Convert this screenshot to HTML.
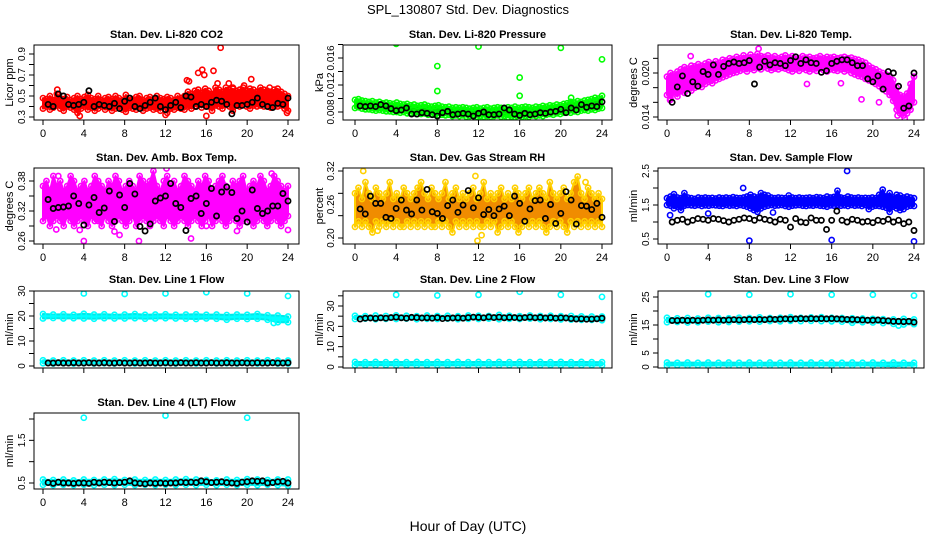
<!DOCTYPE html>
<html><head><meta charset="utf-8"><style>
html,body{margin:0;padding:0;background:#fff;}
svg{display:block;font-family:"Liberation Sans",sans-serif;}
</style></head><body>
<svg id="chart" width="936" height="540" viewBox="0 0 936 540" xmlns="http://www.w3.org/2000/svg">
<rect width="936" height="540" fill="#fff"/>
<text x="468" y="14" text-anchor="middle" font-size="13">SPL_130807  Std. Dev. Diagnostics</text>
<text x="468" y="531" text-anchor="middle" font-size="14">Hour of Day (UTC)</text>
</svg>
<script>
// ---------- data ----------
const xTicks = [0,4,8,12,16,20,24];

const co2Hi = [0.48,0.47,0.50,0.46,0.52,0.48,0.47,0.49,0.46,0.48,0.50,0.47,0.49,0.51,0.48,0.47,0.50,0.46,0.48,0.49,0.47,0.50,0.48,0.46,0.51,0.48,0.47,0.49,0.50,0.46,0.48,0.49,0.47,0.50,0.48,0.47,0.49,0.48,0.46,0.50,0.48,0.50,0.54,0.52,0.55,0.56,0.53,0.57,0.55,0.52,0.58,0.56,0.54,0.58,0.56,0.57,0.55,0.56,0.58,0.55,0.57,0.56,0.54,0.58,0.56,0.55,0.54,0.56,0.57,0.54,0.52,0.50];
const co2Lo = [0.38,0.40,0.37,0.39,0.41,0.38,0.36,0.40,0.39,0.37,0.34,0.38,0.40,0.37,0.39,0.36,0.38,0.40,0.37,0.39,0.36,0.38,0.40,0.37,0.35,0.39,0.38,0.37,0.40,0.36,0.38,0.39,0.37,0.38,0.36,0.40,0.34,0.38,0.37,0.39,0.38,0.37,0.40,0.38,0.40,0.42,0.39,0.41,0.40,0.36,0.41,0.40,0.38,0.42,0.40,0.36,0.41,0.40,0.42,0.40,0.38,0.41,0.40,0.41,0.40,0.42,0.39,0.40,0.40,0.41,0.38,0.36];
const co2Black = [0.42,0.40,0.52,0.50,0.42,0.41,0.42,0.44,0.55,0.40,0.42,0.41,0.40,0.43,0.38,0.45,0.48,0.40,0.38,0.41,0.44,0.48,0.40,0.37,0.41,0.44,0.39,0.50,0.49,0.40,0.42,0.40,0.44,0.46,0.45,0.42,0.33,0.41,0.41,0.42,0.44,0.48,0.42,0.40,0.39,0.43,0.42,0.48];
const co2OutX = [1.4,3.6,14.1,14.3,15.2,15.6,15.8,16.7,17.4,17.1,18.2,18.6,20.4,19.7,12.0,16.0,22.2,23.9];
const co2OutY = [0.56,0.31,0.65,0.64,0.72,0.75,0.70,0.74,0.96,0.62,0.62,0.58,0.66,0.60,0.32,0.31,0.58,0.34];

const presHi = [0.0098,0.0099,0.0097,0.0096,0.0095,0.0096,0.0094,0.0095,0.0093,0.0094,0.0093,0.0092,0.0094,0.0092,0.0091,0.0092,0.0090,0.0091,0.0089,0.0090,0.0091,0.0089,0.0088,0.0089,0.0090,0.0088,0.0087,0.0088,0.0086,0.0087,0.0086,0.0087,0.0086,0.0085,0.0086,0.0087,0.0085,0.0086,0.0087,0.0085,0.0086,0.0087,0.0086,0.0085,0.0087,0.0086,0.0088,0.0086,0.0087,0.0088,0.0087,0.0086,0.0088,0.0087,0.0089,0.0088,0.0090,0.0089,0.0091,0.0090,0.0092,0.0093,0.0095,0.0094,0.0096,0.0095,0.0097,0.0098,0.0099,0.0101,0.0100,0.0104];
const presLo = [0.0086,0.0087,0.0085,0.0084,0.0084,0.0083,0.0082,0.0083,0.0082,0.0081,0.0081,0.0080,0.0080,0.0079,0.0080,0.0078,0.0078,0.0079,0.0077,0.0077,0.0078,0.0076,0.0077,0.0076,0.0075,0.0076,0.0075,0.0076,0.0074,0.0075,0.0074,0.0075,0.0073,0.0074,0.0075,0.0073,0.0074,0.0073,0.0074,0.0073,0.0074,0.0075,0.0073,0.0074,0.0072,0.0073,0.0072,0.0071,0.0073,0.0074,0.0073,0.0075,0.0074,0.0075,0.0074,0.0076,0.0077,0.0076,0.0078,0.0077,0.0079,0.0080,0.0079,0.0081,0.0080,0.0082,0.0083,0.0082,0.0084,0.0083,0.0085,0.0086];
const presBlack = [0.0089,0.0088,0.0089,0.0088,0.0091,0.0089,0.0085,0.0082,0.0083,0.0086,0.0077,0.0077,0.0079,0.0078,0.0076,0.0074,0.0079,0.0081,0.0076,0.0077,0.0078,0.0077,0.0074,0.0078,0.0080,0.0076,0.0076,0.0077,0.0086,0.0083,0.0077,0.0075,0.0078,0.0076,0.0077,0.0079,0.0078,0.0080,0.0081,0.0084,0.0079,0.0086,0.0083,0.0091,0.0087,0.0089,0.0088,0.0095];
const presOutX = [4,8,8,12,16,16,20,24,21];
const presOutY = [0.0181,0.0148,0.0111,0.0177,0.0131,0.0104,0.0175,0.0158,0.0101];

const tempHi = [0.0195,0.0200,0.0198,0.0202,0.0205,0.0208,0.0206,0.0210,0.0209,0.0212,0.0210,0.0213,0.0215,0.0212,0.0216,0.0214,0.0218,0.0217,0.0220,0.0219,0.0222,0.0220,0.0224,0.0221,0.0225,0.0222,0.0226,0.0223,0.0222,0.0224,0.0221,0.0223,0.0220,0.0222,0.0224,0.0221,0.0223,0.0222,0.0220,0.0223,0.0221,0.0222,0.0220,0.0221,0.0223,0.0220,0.0222,0.0221,0.0222,0.0220,0.0221,0.0222,0.0220,0.0221,0.0219,0.0218,0.0216,0.0214,0.0210,0.0207,0.0205,0.0202,0.0200,0.0198,0.0196,0.0190,0.0180,0.0170,0.0168,0.0172,0.0185,0.0195];
const tempLo = [0.0170,0.0165,0.0172,0.0168,0.0175,0.0173,0.0178,0.0176,0.0180,0.0182,0.0181,0.0185,0.0188,0.0186,0.0190,0.0192,0.0194,0.0196,0.0198,0.0200,0.0201,0.0203,0.0205,0.0202,0.0206,0.0204,0.0207,0.0205,0.0208,0.0206,0.0204,0.0206,0.0205,0.0207,0.0206,0.0204,0.0202,0.0205,0.0203,0.0206,0.0204,0.0202,0.0205,0.0203,0.0206,0.0204,0.0202,0.0205,0.0204,0.0203,0.0205,0.0202,0.0204,0.0200,0.0198,0.0196,0.0195,0.0192,0.0190,0.0188,0.0185,0.0182,0.0178,0.0175,0.0170,0.0162,0.0150,0.0145,0.0142,0.0145,0.0150,0.0160];
const tempBlack = [0.0160,0.0181,0.0196,0.0172,0.0188,0.0182,0.0202,0.0198,0.0211,0.0198,0.0209,0.0213,0.0215,0.0213,0.0214,0.0217,0.0185,0.0208,0.0216,0.0211,0.0214,0.0213,0.0210,0.0217,0.0222,0.0213,0.0218,0.0214,0.0213,0.0201,0.0203,0.0213,0.0216,0.0218,0.0218,0.0214,0.0210,0.0210,0.0192,0.0188,0.0196,0.0178,0.0202,0.0200,0.0182,0.0152,0.0155,0.0200];
const tempOutX = [0.3,2.3,8.9,13.6,16.9,18.9,20.6,22.4,23.1];
const tempOutY = [0.0163,0.0223,0.0233,0.0185,0.0186,0.0164,0.0160,0.0142,0.0138];

const ambHi = [0.37,0.38,0.36,0.39,0.37,0.38,0.36,0.37,0.39,0.38,0.36,0.37,0.38,0.36,0.37,0.39,0.38,0.37,0.36,0.38,0.37,0.39,0.38,0.36,0.37,0.38,0.37,0.36,0.39,0.38,0.37,0.38,0.40,0.37,0.36,0.38,0.39,0.37,0.38,0.36,0.37,0.39,0.38,0.37,0.36,0.38,0.37,0.39,0.38,0.36,0.37,0.38,0.39,0.37,0.36,0.38,0.37,0.38,0.39,0.36,0.37,0.38,0.37,0.39,0.38,0.36,0.37,0.39,0.38,0.37,0.36,0.37];
const ambLo = [0.30,0.31,0.29,0.30,0.31,0.30,0.29,0.31,0.30,0.29,0.30,0.31,0.30,0.29,0.31,0.30,0.30,0.29,0.31,0.30,0.29,0.30,0.31,0.30,0.29,0.30,0.31,0.29,0.30,0.31,0.30,0.29,0.30,0.31,0.30,0.29,0.31,0.30,0.29,0.30,0.31,0.30,0.29,0.30,0.31,0.30,0.29,0.30,0.31,0.29,0.30,0.31,0.30,0.29,0.30,0.31,0.30,0.29,0.30,0.31,0.30,0.29,0.30,0.31,0.30,0.29,0.30,0.31,0.30,0.29,0.30,0.31];
const ambBlack = [0.343,0.325,0.327,0.328,0.330,0.350,0.335,0.292,0.332,0.347,0.317,0.326,0.360,0.299,0.352,0.327,0.375,0.354,0.289,0.280,0.294,0.340,0.346,0.350,0.375,0.335,0.327,0.281,0.345,0.350,0.315,0.335,0.365,0.310,0.358,0.368,0.357,0.305,0.320,0.298,0.362,0.325,0.315,0.320,0.330,0.330,0.355,0.340];
const ambOutX = [1.3,3.6,4,7,7.5,9.4,12.1,14.5,16,19,22.4,24,1.5];
const ambOutY = [0.283,0.282,0.26,0.279,0.272,0.26,0.405,0.265,0.29,0.28,0.395,0.282,0.39];

const rhHi = [0.28,0.29,0.27,0.30,0.28,0.27,0.29,0.28,0.27,0.28,0.30,0.27,0.28,0.27,0.29,0.28,0.27,0.28,0.29,0.30,0.28,0.27,0.29,0.28,0.27,0.28,0.30,0.27,0.28,0.29,0.27,0.28,0.27,0.28,0.29,0.27,0.28,0.30,0.27,0.28,0.27,0.28,0.29,0.27,0.28,0.27,0.29,0.28,0.27,0.28,0.29,0.27,0.28,0.29,0.28,0.27,0.30,0.28,0.27,0.28,0.29,0.27,0.28,0.30,0.31,0.28,0.27,0.29,0.28,0.27,0.28,0.27];
const rhLo = [0.22,0.23,0.22,0.23,0.22,0.21,0.23,0.22,0.23,0.22,0.23,0.22,0.23,0.22,0.22,0.23,0.22,0.23,0.22,0.23,0.22,0.23,0.22,0.22,0.23,0.22,0.23,0.22,0.21,0.23,0.22,0.23,0.22,0.23,0.22,0.23,0.22,0.22,0.23,0.22,0.23,0.21,0.22,0.23,0.22,0.23,0.22,0.21,0.22,0.23,0.22,0.23,0.22,0.23,0.22,0.21,0.22,0.23,0.22,0.23,0.22,0.21,0.23,0.22,0.23,0.22,0.23,0.22,0.23,0.22,0.23,0.22];
const rhBlack = [0.252,0.243,0.275,0.262,0.262,0.237,0.235,0.253,0.268,0.250,0.243,0.268,0.250,0.287,0.247,0.244,0.235,0.258,0.268,0.246,0.259,0.285,0.254,0.272,0.242,0.251,0.240,0.252,0.257,0.240,0.275,0.262,0.230,0.252,0.267,0.268,0.235,0.260,0.226,0.244,0.283,0.268,0.225,0.258,0.257,0.251,0.262,0.237];
const rhOutX = [0.8,11.7,11.9,12.3,2.2,22.4];
const rhOutY = [0.32,0.311,0.195,0.205,0.213,0.30];

const sfHi = [1.70,1.75,1.82,1.72,1.70,1.85,1.72,1.70,1.68,1.72,1.70,1.72,1.70,1.71,1.69,1.72,1.70,1.72,1.70,1.73,1.71,1.70,1.72,1.75,1.80,1.75,1.72,1.85,1.80,1.78,1.72,1.70,1.72,1.71,1.70,1.78,1.72,1.70,1.72,1.70,1.71,1.72,1.70,1.73,1.72,1.70,1.75,1.72,1.74,1.92,1.72,1.70,1.75,1.72,1.70,1.72,1.70,1.71,1.70,1.72,1.70,1.80,1.95,1.75,1.85,1.72,1.80,1.78,1.72,1.75,1.72,1.70];
const sfLo = [1.50,1.48,1.40,1.45,1.35,1.48,1.50,1.49,1.48,1.50,1.47,1.49,1.48,1.50,1.49,1.48,1.47,1.50,1.48,1.49,1.47,1.50,1.48,1.45,1.40,1.35,1.30,1.40,1.45,1.48,1.50,1.48,1.49,1.50,1.47,1.45,1.48,1.49,1.50,1.48,1.47,1.49,1.48,1.50,1.48,1.47,1.45,1.49,1.48,1.50,1.48,1.49,1.47,1.50,1.48,1.49,1.47,1.50,1.38,1.45,1.48,1.47,1.45,1.42,1.30,1.45,1.40,1.35,1.38,1.45,1.48,1.47];
const sfBlack = [1.0,1.05,1.08,1.0,1.05,1.1,1.08,1.05,1.1,1.08,1.04,1.0,1.05,1.08,1.12,1.1,1.05,1.12,1.08,1.05,1.0,1.08,1.05,0.85,1.1,1.0,0.98,1.12,1.05,1.05,0.78,1.05,1.32,1.05,1.0,1.08,1.05,1.0,1.02,0.98,1.05,1.02,1.08,1.0,1.05,0.95,1.0,0.75];
const sfOutX = [0.3,4,8,10.3,16,17.5,24,7.4];
const sfOutY = [1.2,1.25,0.45,1.28,0.47,2.5,0.43,2.0];

const l1UpHi = [20.8,20.6,20.7,20.5,20.9,20.6,20.7,20.5,20.6,20.8,20.5,20.6,20.7,20.5,20.6,20.7,20.5,20.6,20.4,20.6,20.5,20.8,20.3,20.2,19.8];
const l1UpLo = [19.0,19.2,19.0,19.1,19.0,18.9,19.1,19.0,19.0,19.1,18.9,19.0,19.1,19.0,18.9,18.8,19.0,18.9,18.5,18.9,18.8,18.9,18.5,17.5,17.5];
const l1DnHi = [2.3,2.2,2.3,2.2,2.3,2.2,2.3,2.2,2.3,2.2,2.3,2.2,2.3,2.2,2.3,2.2,2.3,2.2,2.3,2.2,2.3,2.2,2.3,2.2,2.2];
const l1DnLo = [1.1,1.0,1.1,1.0,1.1,1.0,1.1,1.0,1.1,1.0,1.1,1.0,1.1,1.0,1.1,1.0,1.1,1.0,1.1,1.0,1.1,1.0,1.1,1.0,1.0];
const l1Black = [1.2,1.2,1.3,1.2,1.2,1.3,1.2,1.2,1.3,1.2,1.2,1.3,1.2,1.2,1.3,1.2,1.2,1.3,1.2,1.2,1.3,1.2,1.2,1.3,1.2,1.2,1.3,1.2,1.2,1.3,1.2,1.2,1.3,1.2,1.2,1.3,1.2,1.2,1.3,1.2,1.2,1.3,1.2,1.2,1.3,1.2,1.2,1.3];
const l1OutX = [4,8,12,16,20,24,22.6];
const l1OutY = [29,28.8,29,29.5,29,28,17.2];

const l2UpHi = [25.2,25.0,25.3,25.1,25.4,25.2,25.0,25.3,25.1,25.2,25.0,25.3,25.2,25.1,25.6,25.2,25.0,25.3,25.1,25.2,25.0,25.1,24.9,24.8,24.8];
const l2UpLo = [23.6,23.8,23.5,23.7,23.6,23.8,23.5,23.7,23.6,23.8,23.5,23.7,23.6,23.8,23.5,23.7,23.6,23.8,23.5,23.6,23.4,23.3,23.2,23.2,23.0];
const l2DnHi = [2.5,2.4,2.5,2.4,2.5,2.4,2.5,2.4,2.5,2.4,2.5,2.4,2.5,2.4,2.5,2.4,2.5,2.4,2.5,2.4,2.5,2.4,2.5,2.4,2.4];
const l2DnLo = [0.8,0.9,0.8,0.9,0.8,0.9,0.8,0.9,0.8,0.9,0.8,0.9,0.8,0.9,0.8,0.9,0.8,0.9,0.8,0.9,0.8,0.9,0.8,0.9,0.8];
const l2Black = [23.6,24.0,24.1,23.9,24.2,24.0,24.3,24.5,24.2,24.0,24.4,24.3,24.1,24.2,24.0,24.3,23.8,24.0,24.1,24.2,24.0,24.3,24.5,24.4,24.2,24.6,24.3,24.5,24.2,24.4,24.3,24.1,24.3,24.5,24.2,24.4,24.1,24.3,24.0,24.2,24.1,23.8,23.6,23.7,23.5,23.6,23.7,24.0];
const l2OutX = [4,8,12,16,20,24];
const l2OutY = [35.5,35.2,35.5,37,35.5,34.5];

const l3UpHi = [17.6,17.4,17.5,17.3,17.6,17.5,17.4,17.6,17.5,17.7,17.5,17.6,17.8,17.6,17.7,17.8,17.6,17.5,17.4,17.3,17.2,17.1,17.0,17.2,17.0];
const l3UpLo = [16.0,16.1,15.9,16.0,16.2,16.0,16.1,16.2,16.3,16.2,16.4,16.3,16.5,16.4,16.5,16.4,16.3,16.2,15.8,16.0,15.9,15.7,15.4,15.2,15.3];
const l3DnHi = [1.6,1.5,1.6,1.5,1.6,1.5,1.6,1.5,1.6,1.5,1.6,1.5,1.6,1.5,1.6,1.5,1.6,1.5,1.6,1.5,1.6,1.5,1.6,1.5,1.5];
const l3DnLo = [0.5,0.6,0.5,0.6,0.5,0.6,0.5,0.6,0.5,0.6,0.5,0.6,0.5,0.6,0.5,0.6,0.5,0.6,0.5,0.6,0.5,0.4,0.3,0.5,0.5];
const l3Black = [16.6,16.6,16.7,16.6,16.7,16.6,16.7,16.8,16.7,16.8,16.7,16.8,16.9,16.8,16.9,17.0,16.9,17.0,16.9,17.1,17.0,17.1,17.2,17.1,17.2,17.3,17.2,17.3,17.2,17.3,17.2,17.3,17.2,17.1,17.0,17.0,16.9,16.8,16.7,16.7,16.8,16.6,16.5,16.3,16.3,16.2,16.3,16.0];
const l3OutX = [4,8,12,16,20,24,22.5];
const l3OutY = [26,25.8,26,25.8,25.8,25.5,14.8];

const l4Hi = [0.58,0.57,0.58,0.56,0.58,0.57,0.58,0.59,0.57,0.58,0.57,0.58,0.57,0.58,0.59,0.58,0.57,0.56,0.58,0.57,0.59,0.58,0.57,0.58,0.58];
const l4Lo = [0.46,0.45,0.46,0.45,0.46,0.45,0.46,0.45,0.46,0.45,0.46,0.45,0.46,0.45,0.46,0.45,0.46,0.45,0.46,0.45,0.46,0.45,0.46,0.45,0.44];
const l4Black = [0.51,0.49,0.52,0.50,0.50,0.49,0.50,0.50,0.49,0.52,0.50,0.52,0.51,0.50,0.51,0.52,0.55,0.50,0.49,0.48,0.50,0.49,0.50,0.49,0.50,0.50,0.52,0.51,0.52,0.51,0.55,0.53,0.51,0.52,0.53,0.51,0.50,0.49,0.52,0.53,0.55,0.54,0.55,0.50,0.51,0.53,0.54,0.50];
const l4OutX = [4,12,20];
const l4OutY = [2.03,2.08,2.03];

// ---------- drawing ----------
const NS = "http://www.w3.org/2000/svg";
const svg = document.getElementById('chart');
function mk(tag, attrs, parent){ const e=document.createElementNS(NS,tag); for(const k in attrs) e.setAttribute(k,attrs[k]); (parent||svg).appendChild(e); return e; }

const cols = [{b0:34,b1:299,h0:43,h24:288,lab:10},{b0:343,b1:612,h0:355,h24:602,lab:320},{b0:658,b1:924,h0:667,h24:914,lab:634}];
const rows = [{t:45,b:120,title:34,xl:true},{t:168,b:244,title:157,xl:true},{t:291,b:368,title:279,xl:false},{t:413,b:489,title:402,xl:true}];

const panels = [
 {name:'co2',title:'Stan. Dev. Li-820 CO2',ylab:'Licor ppm',c:0,r:0,v0:0.3,p0:117,v1:0.9,p1:54,ticks:[0.3,0.4,0.5,0.6,0.7,0.8,0.9],labels:['0.3','','0.5','','0.7','','0.9'],color:'#ff0000',fill:'#ff0000',edge:'#ff0000',bands:[[co2Hi,co2Lo]],black:co2Black,ox:co2OutX,oy:co2OutY},
 {name:'pressure',title:'Stan. Dev. Li-820 Pressure',ylab:'kPa',c:1,r:0,v0:0.008,p0:112,v1:0.016,p1:58,ticks:[0.008,0.010,0.012,0.014,0.016,0.018],labels:['0.008','','0.012','','0.016',''],color:'#00ff00',fill:'#00e000',edge:'#00ff00',bands:[[presHi,presLo]],black:presBlack,ox:presOutX,oy:presOutY},
 {name:'temp',title:'Stan. Dev. Li-820 Temp.',ylab:'degrees C',c:2,r:0,v0:0.014,p0:117,v1:0.020,p1:73,ticks:[0.014,0.016,0.018,0.020,0.022],labels:['0.014','','','0.020',''],color:'#ff00ff',fill:'#ff00ff',edge:'#ff00ff',bands:[[tempHi,tempLo]],black:tempBlack,ox:tempOutX,oy:tempOutY},
 {name:'amb-box-temp',title:'Stan. Dev. Amb. Box Temp.',ylab:'degrees C',c:0,r:1,v0:0.26,p0:241,v1:0.38,p1:181,ticks:[0.26,0.29,0.32,0.35,0.38],labels:['0.26','','0.32','','0.38'],color:'#ff00ff',fill:'#ff00ff',edge:'#ff00ff',bands:[[ambHi,ambLo]],black:ambBlack,ox:ambOutX,oy:ambOutY},
 {name:'gas-stream-rh',title:'Stan. Dev. Gas Stream RH',ylab:'percent',c:1,r:1,v0:0.20,p0:238,v1:0.32,p1:171,ticks:[0.20,0.24,0.28,0.32],labels:['0.20','','','0.32'],extraLab:[[0.26,'0.26']],color:'#ffd000',fill:'#f08c00',edge:'#ffd000',bands:[[rhHi,rhLo]],black:rhBlack,ox:rhOutX,oy:rhOutY},
 {name:'sample-flow',title:'Stan. Dev. Sample Flow',ylab:'ml/min',c:2,r:1,v0:0.5,p0:239,v1:2.5,p1:171,ticks:[0.5,1.0,1.5,2.0,2.5],labels:['0.5','','1.5','','2.5'],color:'#0000ff',fill:'#0000ff',edge:'#0000ff',bands:[[sfHi,sfLo]],black:sfBlack,ox:sfOutX,oy:sfOutY},
 {name:'line1-flow',title:'Stan. Dev. Line 1 Flow',ylab:'ml/min',c:0,r:2,v0:0,p0:366,v1:30,p1:291,ticks:[0,5,10,15,20,25,30],labels:['0','','10','','20','','30'],color:'#00ffff',fill:'#00ffff',edge:'#00e8e8',bands:[[l1UpHi,l1UpLo],[l1DnHi,l1DnLo]],black:l1Black,ox:l1OutX,oy:l1OutY},
 {name:'line2-flow',title:'Stan. Dev. Line 2 Flow',ylab:'ml/min',c:1,r:2,v0:0,p0:367,v1:30,p1:306,ticks:[0,5,10,15,20,25,30,35],labels:['0','','10','','20','','30',''],color:'#00ffff',fill:'#00ffff',edge:'#00e8e8',bands:[[l2UpHi,l2UpLo],[l2DnHi,l2DnLo]],black:l2Black,ox:l2OutX,oy:l2OutY},
 {name:'line3-flow',title:'Stan. Dev. Line 3 Flow',ylab:'ml/min',c:2,r:2,v0:0,p0:367,v1:25,p1:297,ticks:[0,5,10,15,20,25],labels:['0','5','','15','','25'],color:'#00ffff',fill:'#00ffff',edge:'#00e8e8',bands:[[l3UpHi,l3UpLo],[l3DnHi,l3DnLo]],black:l3Black,ox:l3OutX,oy:l3OutY},
 {name:'line4-flow',title:'Stan. Dev. Line 4 (LT) Flow',ylab:'ml/min',c:0,r:3,v0:0.5,p0:483,v1:2.0,p1:419,ticks:[0.5,1.0,1.5,2.0],labels:['0.5','','1.5',''],color:'#00ffff',fill:'#00ffff',edge:'#00e8e8',bands:[[l4Hi,l4Lo]],black:l4Black,ox:l4OutX,oy:l4OutY}
];

panels.forEach(p=>{
  const col=cols[p.c], row=rows[p.r];
  const g=mk('g',{});
  
  
  const xs=h=>col.h0+(col.h24-col.h0)*h/24;
  const ys=v=>p.p0+(p.p1-p.p0)*(v-p.v0)/(p.v1-p.v0);
  const cp='clip-'+p.name;
  const cl=mk('clipPath',{id:cp},g); mk('rect',{x:col.b0,y:row.t,width:col.b1-col.b0,height:row.b-row.t},cl);
  const plot=mk('g',{'clip-path':'url(#'+cp+')'},g);
  p.bands.forEach((bd,bi)=>{
    const hi=bd[0], lo=bd[1], n=hi.length;
    const xi=i=>xs(i*24/(n-1));
    let pts=[];
    for(let i=0;i<n;i++) pts.push(xi(i).toFixed(1)+','+ys(hi[i]).toFixed(1));
    for(let i=n-1;i>=0;i--) pts.push(xi(i).toFixed(1)+','+ys(lo[i]).toFixed(1));
    const poly=mk('polygon',{points:pts.join(' '),fill:p.fill,stroke:p.edge,'stroke-width':2,'stroke-linejoin':'round'},plot);
    
    
    for(let i=0;i<n;i++){
      [hi[i],lo[i]].forEach(v=>{
        const c=mk('circle',{cx:xi(i),cy:ys(v),r:2.6,fill:'none',stroke:p.color,'stroke-width':1.6},plot);
        
        
      });
    }
  });
  p.ox.forEach((hx,i)=>{
    const c=mk('circle',{cx:xs(hx),cy:ys(p.oy[i]),r:2.6,fill:'none',stroke:p.color,'stroke-width':1.6},plot);
    
    
  });
  const nb=p.black.length;
  p.black.forEach((v,i)=>{
    const hx=0.5+i*23.5/(nb-1);
    const c=mk('circle',{cx:xs(hx),cy:ys(v),r:2.6,fill:'none',stroke:'#000','stroke-width':1.7},plot);
    
    
  });
  const box=mk('rect',{x:col.b0,y:row.t,width:col.b1-col.b0,height:row.b-row.t,fill:'none',stroke:'#000','stroke-width':1},g);
  
  
  const t=mk('text',{x:(col.b0+col.b1)/2,y:row.title+4,'text-anchor':'middle','font-size':11,'font-weight':'bold'},g);
  t.textContent=p.title;
  
  
  mk('line',{x1:xs(0),x2:xs(24),y1:row.b,y2:row.b,stroke:'#000'},g);
  xTicks.forEach(h=>{
    mk('line',{x1:xs(h),x2:xs(h),y1:row.b,y2:row.b+5,stroke:'#000'},g);
    if(row.xl){
      const tx=mk('text',{x:xs(h),y:row.b+17,'text-anchor':'middle','font-size':11},g);
      tx.textContent=h;
      
      
    }
  });
  const ya=p.ticks[0], yb=p.ticks[p.ticks.length-1];
  mk('line',{x1:col.b0,x2:col.b0,y1:ys(ya),y2:ys(yb),stroke:'#000'},g);
  const lx=col.b0-9;
  const labs=p.ticks.map((v,i)=>[v,p.labels[i]]).concat(p.extraLab||[]);
  p.ticks.forEach(v=>mk('line',{x1:col.b0-5,x2:col.b0,y1:ys(v),y2:ys(v),stroke:'#000'},g));
  labs.forEach(([v,l])=>{
    if(!l) return;
    const ty=ys(v);
    const tx=mk('text',{x:lx,y:ty,'text-anchor':'middle','font-size':10,transform:'rotate(-90 '+lx+' '+ty+')'},g);
    tx.textContent=l;
    
    
  });
  const my=(row.t+row.b)/2, ax=col.lab+3;
  const yt=mk('text',{x:ax,y:my,'text-anchor':'middle','font-size':11,transform:'rotate(-90 '+ax+' '+my+')'},g);
  yt.textContent=p.ylab;
  
  
});
</script>
</body></html>
